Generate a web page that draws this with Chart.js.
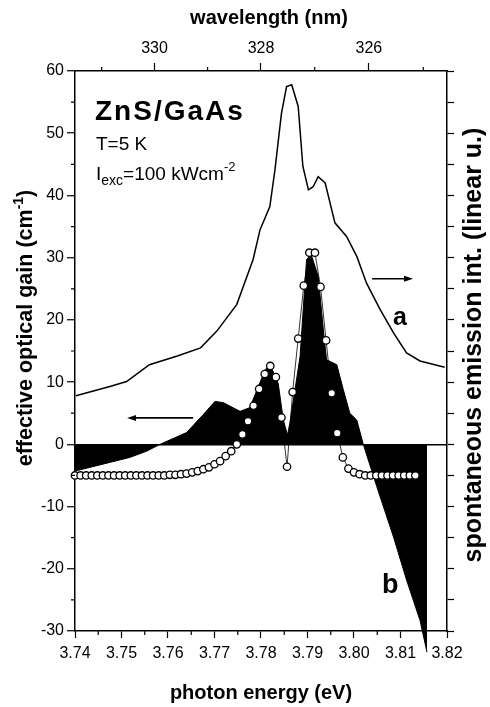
<!DOCTYPE html>
<html>
<head>
<meta charset="utf-8">
<script src="https://cdn.jsdelivr.net/npm/chart.js@4.4.0/dist/chart.umd.min.js"></script>
<style>
  html, body { margin: 0; padding: 0; background: #fff; }
</style>
</head>
<body>
<canvas id="gainChart" width="490" height="707"></canvas>
<script>
// axis ticks
const energyMinor = [3.745, 3.755, 3.765, 3.775, 3.785, 3.795, 3.805, 3.815];
const wavelengthTicks = [330, 328, 326];
const wavelengthMinor = [331, 329, 327, 325];
const gainMinor = [55, 45, 35, 25, 15, 5, -5, -15, -25];

// curve a: spontaneous emission
const emissionEnergy = [3.7402, 3.7475, 3.7511, 3.756, 3.762, 3.767, 3.7705, 3.7748, 3.7783, 3.7798,
  3.7819, 3.783, 3.7844, 3.7855, 3.7866, 3.788, 3.789, 3.7902, 3.7912, 3.7923,
  3.7938, 3.7959, 3.7984, 3.8006, 3.8027, 3.8056, 3.8085, 3.8113, 3.8142, 3.8195];
const emissionInt = [7.8, 9.3, 10.1, 12.8, 14.2, 15.5, 18.2, 22.5, 29.7, 34.5,
  38.2, 44.1, 53.2, 57.5, 57.8, 54.3, 44.7, 40.9, 41.4, 43.0,
  42.0, 35.6, 33.4, 30.2, 25.9, 21.7, 17.9, 14.7, 13.4, 12.4];

// curve b: measured effective gain (filled)
const gainEnergy = [3.740, 3.7475, 3.7518, 3.7554, 3.7583, 3.764, 3.7676, 3.7701, 3.7719, 3.7755,
  3.7776, 3.7809, 3.7819, 3.7837, 3.7848, 3.7857, 3.7862, 3.7884, 3.7898, 3.7908,
  3.7923, 3.7936, 3.7941, 3.7963, 3.7977, 3.7991, 3.8006, 3.802, 3.8049, 3.8085,
  3.8113, 3.8142, 3.8157];
const gainMeasured = [-4.3, -2.9, -2.1, -1.1, 0, 1.9, 4.8, 6.9, 6.7, 5.3,
  5.9, 12.0, 12.8, 9.8, 3.9, 1.5, 3.4, 14.1, 29.7, 30.5,
  27.0, 17.0, 13.6, 12.8, 8.8, 5.0, 3.9, 0, -6.8, -14.9,
  -21.8, -28.3, -33.4];

// open circles: calculated gain
const modelEnergy = [3.7400, 3.7412, 3.7424, 3.7436, 3.7448, 3.7460, 3.7472, 3.7484, 3.7496, 3.7508,
  3.7520, 3.7532, 3.7544, 3.7556, 3.7568, 3.7580, 3.7592, 3.7604, 3.7616, 3.7628,
  3.7640, 3.7652, 3.7664, 3.7676, 3.7688, 3.7700, 3.7712, 3.7724, 3.7736, 3.7748,
  3.7760, 3.7772, 3.7784, 3.7796, 3.7808, 3.7820, 3.7832, 3.7844, 3.7856, 3.7868,
  3.7880, 3.7892, 3.7904, 3.7916, 3.7928, 3.7940, 3.7952, 3.7964, 3.7976, 3.7988,
  3.8000, 3.8012, 3.8024, 3.8036, 3.8048, 3.8060, 3.8072, 3.8084, 3.8096, 3.8108,
  3.8120, 3.8132];
const modelGain = [-5.0, -5.0, -5.0, -5.0, -5.0, -5.0, -5.0, -5.0, -5.0, -5.0,
  -5.0, -5.0, -5.0, -5.0, -5.0, -5.0, -5.0, -4.9, -4.9, -4.8,
  -4.7, -4.5, -4.3, -4.0, -3.7, -3.2, -2.7, -1.9, -1.1, 0.0,
  1.6, 3.7, 6.2, 8.9, 11.3, 12.6, 10.8, 4.3, -3.6, 8.4,
  17.0, 25.5, 30.8, 30.8, 25.3, 16.7, 8.2, 1.8, -2.1, -3.9,
  -4.5, -4.8, -5.0, -5.0, -5.0, -5.0, -5.0, -5.0, -5.0, -5.0,
  -5.0, -5.0];

const HC = 1239.84;
const FONT = "'Liberation Sans', Arial, Helvetica, sans-serif";
Chart.defaults.font.family = FONT;
Chart.defaults.color = '#000';

const toXY = (xs, ys) => xs.map((x, i) => ({ x: x, y: ys[i] }));

function drawRuns(ctx, parts, x, y, align) {
  let total = 0;
  parts.forEach(p => { ctx.font = p.font; total += ctx.measureText(p.t).width; });
  let cx = align === 'center' ? x - total / 2 : x;
  parts.forEach(p => {
    ctx.font = p.font;
    ctx.fillText(p.t, cx, y + (p.dy || 0));
    cx += ctx.measureText(p.t).width;
  });
}

function arrow(ctx, x1, y1, x2, y2) {
  const dir = Math.sign(x2 - x1);
  ctx.beginPath();
  ctx.moveTo(x1, y1);
  ctx.lineTo(x2 - dir * 6, y2);
  ctx.lineWidth = 1.6;
  ctx.stroke();
  ctx.beginPath();
  ctx.moveTo(x2, y2);
  ctx.lineTo(x2 - dir * 9, y2 - 3);
  ctx.lineTo(x2 - dir * 9, y2 + 3);
  ctx.closePath();
  ctx.fill();
}

const decorations = {
  id: 'decorations',
  afterDatasetsDraw(chart) {
    // part of the gain area that runs below the frame
    const { ctx, chartArea } = chart;
    const meta = chart.getDatasetMeta(2);
    const zero = chart.scales.y.getPixelForValue(0);
    const pts = meta.data;
    ctx.save();
    ctx.beginPath();
    ctx.rect(chartArea.left, chartArea.bottom, chartArea.right - chartArea.left, 40);
    ctx.clip();
    ctx.beginPath();
    pts.forEach((p, i) => i ? ctx.lineTo(p.x, p.y) : ctx.moveTo(p.x, p.y));
    ctx.lineTo(pts[pts.length - 1].x, zero);
    ctx.closePath();
    ctx.fillStyle = '#000';
    ctx.fill();
    ctx.restore();
  },
  afterDraw(chart) {
    const { ctx, chartArea } = chart;
    const { x, x2, y } = chart.scales;
    ctx.save();
    ctx.strokeStyle = '#000';
    ctx.fillStyle = '#000';
    ctx.lineWidth = 1.2;

    // minor ticks
    ctx.beginPath();
    energyMinor.forEach(e => {
      const px = x.getPixelForValue(e);
      ctx.moveTo(px, chartArea.bottom); ctx.lineTo(px, chartArea.bottom + 4);
    });
    wavelengthMinor.forEach(l => {
      const px = x2.getPixelForValue(HC / l);
      ctx.moveTo(px, chartArea.top); ctx.lineTo(px, chartArea.top - 4);
    });
    gainMinor.forEach(v => {
      const py = y.getPixelForValue(v);
      ctx.moveTo(chartArea.left - 4, py); ctx.lineTo(chartArea.left, py);
    });
    ctx.stroke();

    // arrows pointing to the axis of each curve
    arrow(ctx, x.getPixelForValue(3.7654), y.getPixelForValue(4.25), x.getPixelForValue(3.7512), y.getPixelForValue(4.25));
    arrow(ctx, x.getPixelForValue(3.8039), y.getPixelForValue(26.6), x.getPixelForValue(3.8127), y.getPixelForValue(26.6));

    // curve labels
    ctx.textBaseline = 'alphabetic';
    ctx.textAlign = 'left';
    ctx.font = 'bold 25px ' + FONT;
    ctx.fillText('a', x.getPixelForValue(3.8084), y.getPixelForValue(19.2));
    ctx.font = 'bold 27px ' + FONT;
    ctx.fillText('b', x.getPixelForValue(3.8060), y.getPixelForValue(-23.9));

    // sample info
    ctx.font = 'bold 28px ' + FONT;
    ctx.letterSpacing = '2px';
    ctx.fillText('ZnS/GaAs', 95, 120);
    ctx.letterSpacing = '0px';
    ctx.font = '19px ' + FONT;
    ctx.fillText('T=5 K', 96, 150);
    drawRuns(ctx, [
      { t: 'I', font: '19px ' + FONT },
      { t: 'exc', font: '14px ' + FONT, dy: 5 },
      { t: '=100 kWcm', font: '19px ' + FONT },
      { t: '-2', font: '13px ' + FONT, dy: -9 }
    ], 96, 180, 'left');

    // axis titles
    const bold = 'bold 20px ' + FONT;
    drawRuns(ctx, [{ t: 'wavelength (nm)', font: bold }], 269, 24, 'center');
    drawRuns(ctx, [{ t: 'photon energy (eV)', font: bold }], 261, 699, 'center');

    ctx.save();
    ctx.translate(32, 328);
    ctx.rotate(-Math.PI / 2);
    drawRuns(ctx, [
      { t: 'effective optical gain (cm', font: 'bold 21.5px ' + FONT },
      { t: '-1', font: 'bold 14px ' + FONT, dy: -9 },
      { t: ')', font: 'bold 21.5px ' + FONT }
    ], 0, 0, 'center');
    ctx.restore();

    ctx.save();
    ctx.translate(481, 345);
    ctx.rotate(-Math.PI / 2);
    drawRuns(ctx, [{ t: 'spontaneous emission int. (linear u.)', font: 'bold 25px ' + FONT }], 0, 0, 'center');
    ctx.restore();

    ctx.restore();
  }
};

const ctx = document.getElementById('gainChart').getContext('2d');
new Chart(ctx, {
  type: 'scatter',
  data: {
    datasets: [
      {
        label: 'calculated gain',
        data: toXY(modelEnergy, modelGain),
        showLine: true,
        borderColor: '#000',
        borderWidth: 0.8,
        pointRadius: 3.7,
        pointBackgroundColor: '#fff',
        pointBorderColor: '#000',
        pointBorderWidth: 1.3,
        yAxisID: 'y',
        clip: false
      },
      {
        label: 'a',
        data: toXY(emissionEnergy, emissionInt),
        showLine: true,
        borderColor: '#000',
        borderWidth: 1.5,
        pointRadius: 0,
        tension: 0,
        yAxisID: 'y2'
      },
      {
        label: 'b',
        data: toXY(gainEnergy, gainMeasured),
        showLine: true,
        borderColor: '#000',
        borderWidth: 1,
        backgroundColor: '#000',
        fill: 'origin',
        pointRadius: 0,
        yAxisID: 'y',
        clip: { left: 0, top: 0, right: 0, bottom: 30 }
      }
    ]
  },
  options: {
    responsive: false,
    animation: false,
    layout: { padding: 0 },
    plugins: { legend: { display: false }, tooltip: { enabled: false } },
    scales: {
      x: {
        type: 'linear', position: 'bottom', min: 3.74, max: 3.82,
        afterFit: s => { s.height = 76; },
        border: { display: true, color: '#000', width: 1.5 },
        grid: { drawOnChartArea: false, tickLength: 7, tickColor: '#000', tickWidth: 1.2 },
        ticks: {
          stepSize: 0.01, autoSkip: false, maxRotation: 0, padding: 6,
          font: { size: 16 },
          callback: v => v.toFixed(2)
        }
      },
      x2: {
        type: 'linear', position: 'top', min: 3.74, max: 3.82,
        afterFit: s => { s.height = 71; },
        afterBuildTicks: s => { s.ticks = wavelengthTicks.map(l => ({ value: HC / l })); },
        border: { display: true, color: '#000', width: 1.5 },
        grid: { drawOnChartArea: false, tickLength: 8, tickColor: '#000', tickWidth: 1.2 },
        ticks: {
          autoSkip: false, maxRotation: 0, padding: 5,
          font: { size: 16 },
          callback: v => String(Math.round(HC / v))
        }
      },
      y: {
        position: 'left', min: -30, max: 60,
        afterFit: s => { s.width = 75; },
        border: { display: true, color: '#000', width: 1.5 },
        grid: {
          drawOnChartArea: true,
          color: c => (c.tick && c.tick.value === 0) ? '#000' : 'rgba(0,0,0,0)',
          lineWidth: 1.5,
          tickLength: 8, tickColor: '#000', tickWidth: 1.2
        },
        ticks: { stepSize: 10, padding: 3, font: { size: 16 } }
      },
      y2: {
        position: 'right', min: -30, max: 60,
        afterFit: s => { s.width = 43; },
        border: { display: true, color: '#000', width: 1.5 },
        grid: { drawOnChartArea: false, tickLength: 7, tickColor: '#000', tickWidth: 1.2 },
        ticks: { stepSize: 5, display: false }
      }
    }
  },
  plugins: [decorations]
});
</script>
</body>
</html>
